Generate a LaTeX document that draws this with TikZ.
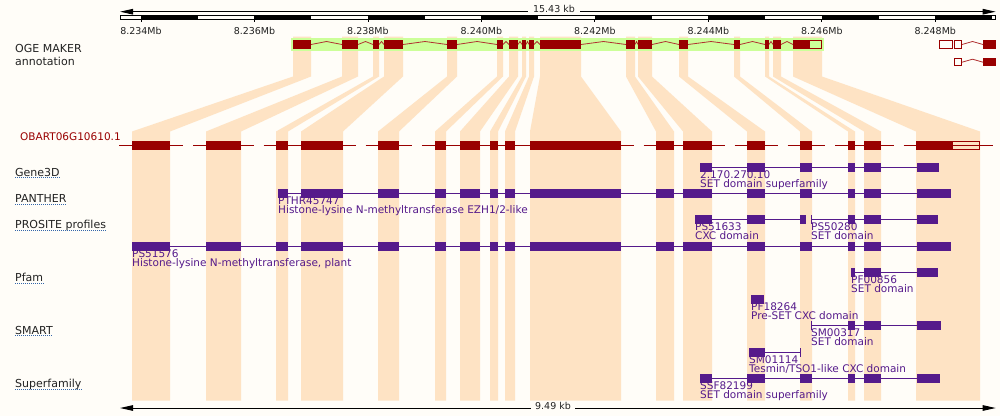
\documentclass[tikz,border=0pt]{standalone}
\usepackage{fontspec}
\setmainfont{DejaVu Sans}
\usetikzlibrary{arrows.meta}

\definecolor{pagebg}{RGB}{255,253,248}
\definecolor{exonred}{RGB}{153,0,0}
\definecolor{intronred}{RGB}{176,48,48}
\definecolor{makergreen}{RGB}{204,255,153}
\definecolor{bandorange}{RGB}{254,227,196}
\definecolor{domainpurple}{RGB}{85,26,139}
\definecolor{linkblue}{RGB}{51,102,170}
\definecolor{labelgray}{RGB}{34,34,34}

\begin{document}
\begin{tikzpicture}[
    x=1pt, y=-1pt,
    band/.style={fill=bandorange},
    exon/.style={fill=exonred},
    utr/.style={draw=exonred, line width=1pt},
    hat/.style={draw=intronred, line width=0.8pt},
    txline/.style={draw=exonred, line width=1pt},
    domainbox/.style={fill=domainpurple},
    domline/.style={draw=domainpurple, line width=1pt},
    trackname/.style={anchor=base west, inner sep=0pt, text=labelgray, font=\fontsize{11}{12}\selectfont},
    domlabel/.style={anchor=base west, inner sep=0pt, text=domainpurple, font=\fontsize{10.5}{12}\selectfont},
    ticklabel/.style={anchor=base, inner sep=0pt, text=labelgray, font=\fontsize{9.5}{11}\selectfont},
    uline/.style={draw=linkblue, line width=0.8pt, dash pattern=on 1pt off 1pt},
    dimarrow/.style={draw=black, line width=1pt, -{Triangle[length=13pt,width=5.5pt]}}
]
    % Background
    \useasboundingbox (0,0) rectangle (1000,416);
    \fill[pagebg] (0,0) rectangle (1000,416);

    % Ruler
    \coordinate (rulerL) at (120,11.7);
    \coordinate (rulerR) at (995.7,11.7);
    \node (rulerlen) at (554,12) [ticklabel, inner xsep=5pt] {15.43 kb};
    \draw[dimarrow] (rulerlen.west |- rulerL) -- (rulerL);
    \draw[dimarrow] (rulerlen.east |- rulerR) -- (rulerR);
    \draw[line width=0.8pt] (120,15.7) rectangle (995.7,19);
    \foreach \i/\lab in {0/8.234Mb, 1/8.236Mb, 2/8.238Mb, 3/8.240Mb, 4/8.242Mb, 5/8.244Mb, 6/8.246Mb, 7/8.248Mb} {
        \fill (141+113.47*\i,15.7) rectangle +(56.7,3.3);
        \draw[line width=0.8pt] (141+113.47*\i,19) -- +(0,3);
        \node (tick\i) at (141+113.47*\i,34.3) [ticklabel] {\lab};
    }

    % Exon bands
    \foreach \ga/\gb/\ta/\tb in {293/311/132/170, 342/358/206/241, 373/379/276/288, 384/403/301/343,
        447/457/378/399, 497/503/435/446, 509/518/460/480, 522/526/490/498, 529/534/505/515,
        540/581/530/621, 626/635/656/674, 638/652/683/712, 679/688/747/765, 734/740/800/812,
        765/769/848/855, 773/781/864/881, 793/822/916/980}
        \fill[band] (\ga,36.5) -- (\gb,36.5) -- (\gb,76.5) -- (\tb,131.5) -- (\tb,400.5)
            -- (\ta,400.5) -- (\ta,131.5) -- (\ga,76.5) -- cycle;

    % OGE MAKER annotation
    \node (maker) at (15,52.3) [trackname] {OGE MAKER};
    \node (makersub) at (15,65) [trackname] {annotation};
    \fill[makergreen] (291,38) rectangle (824,50.7);
    \foreach \a/\b in {311/342, 358/373, 379/384, 403/447, 457/497, 503/509, 518/522, 526/529,
        534/540, 581/626, 635/638, 652/679, 688/734, 740/765, 769/773, 781/793}
        \draw[hat] (\a,44.5) -- ({(\a+\b)/2},41.5) -- (\b,44.5);
    \foreach \a/\b in {293/311, 342/358, 373/379, 384/403, 447/457, 497/503, 509/518, 522/526,
        529/534, 540/581, 626/635, 638/652, 679/688, 734/740, 765/769, 773/781, 793/809}
        \fill[exon] (\a,40) rectangle (\b,48.7);
    \draw[utr] (809.5,40.5) rectangle (821.5,48.2);

    % neighbouring models
    \draw[utr] (939.5,40.8) rectangle (952.5,48.2);
    \draw[utr] (954.5,40.8) rectangle (961.5,48.2);
    \draw[hat] (962,44.5) -- (972.5,41.5) -- (983,44.5);
    \fill[exon] (983,40.3) rectangle (996,48.7);
    \draw[utr] (954.5,58.5) rectangle (961.5,65.8);
    \draw[hat] (962,62.2) -- (972.5,59.2) -- (983,62.2);
    \fill[exon] (983,58) rectangle (996,66.3);

    % Transcript
    \node (transcript) at (20,140.7) [trackname, text=exonred, font=\fontsize{10.5}{12}\selectfont] {OBART06G10610.1};
    \foreach \a/\b in {119/132, 170/183, 193/206, 241/253.5, 263.5/276, 288/301, 343/355.5, 365.5/378,
        399/412, 422/435, 446/460, 480/490, 498/505, 515/530, 621/633.5, 643.5/656, 674/683,
        712/724.5, 734.5/747, 765/777.5, 787.5/800, 812/825, 835/848, 855/864, 881/893.5,
        903.5/916, 952/993}
        \draw[txline] (\a,145.3) -- (\b,145.3);
    \foreach \a/\b in {132/170, 206/241, 276/288, 301/343, 378/399, 435/446, 460/480, 490/498,
        505/515, 530/621, 656/674, 683/712, 747/765, 800/812, 848/855, 864/881, 916/952}
        \fill[exon] (\a,141) rectangle (\b,149.7);
    \draw[utr] (952,141.5) rectangle (979.5,149.2);

    % Track names
    \node (gene3d) at (15,176) [trackname] {Gene3D};
    \node (panther) at (15,202.7) [trackname] {PANTHER};
    \node (prosite) at (15,228.5) [trackname] {PROSITE profiles};
    \node (pfam) at (15,281.3) [trackname] {Pfam};
    \node (smart) at (15,334) [trackname] {SMART};
    \node (superfam) at (15,387.3) [trackname] {Superfamily};
    \foreach \n in {gene3d, panther, prosite, pfam, smart, superfam}
        \draw[uline] ([yshift=-1.8pt]\n.base west) -- ([yshift=-1.8pt]\n.base east);

    % Domain labels
    \node (gene3dId) at (700,178) [domlabel] {2.170.270.10};
    \node (gene3dDesc) at (700,187.4) [domlabel] {SET domain superfamily};
    \node (pantherId) at (278,204) [domlabel] {PTHR45747};
    \node (pantherDesc) at (278,213.4) [domlabel] {Histone-lysine N-methyltransferase EZH1/2-like};
    \node (cxcId) at (695,230) [domlabel] {PS51633};
    \node (cxcDesc) at (695,239.4) [domlabel] {CXC domain};
    \node (setId) at (811,230) [domlabel] {PS50280};
    \node (setDesc) at (811,239.4) [domlabel] {SET domain};
    \node (plantId) at (132,257) [domlabel] {PS51576};
    \node (plantDesc) at (132,266.4) [domlabel] {Histone-lysine N-methyltransferase, plant};
    \node (pfsetId) at (851,283) [domlabel] {PF00856};
    \node (pfsetDesc) at (851,292.4) [domlabel] {SET domain};
    \node (pfcxcId) at (751,310) [domlabel] {PF18264};
    \node (pfcxcDesc) at (751,319.4) [domlabel] {Pre-SET CXC domain};
    \node (smsetId) at (811,336) [domlabel] {SM00317};
    \node (smsetDesc) at (811,345.4) [domlabel] {SET domain};
    \node (smcxcId) at (749,363) [domlabel] {SM01114};
    \node (smcxcDesc) at (749,372.4) [domlabel] {Tesmin/TSO1-like CXC domain};
    \node (ssfId) at (700,389) [domlabel] {SSF82199};
    \node (ssfDesc) at (700,398.4) [domlabel] {SET domain superfamily};

    % Gene3D
    \draw[domline] (712,167.3) -- (917,167.3);
    \foreach \a/\b in {700/712, 747/765, 800/812, 848/855, 864/881, 917/939}
        \fill[domainbox] (\a,163) rectangle (\b,171.7);

    % PANTHER
    \draw[domline] (278,193.3) -- (951,193.3);
    \foreach \a/\b in {278/288, 301/343, 378/399, 435/446, 460/480, 490/498, 505/515, 530/621,
        656/674, 683/712, 747/765, 800/812, 848/855, 864/881, 917/951}
        \fill[domainbox] (\a,189) rectangle (\b,197.7);

    % PROSITE profiles
    \draw[domline] (712,219.3) -- (806,219.3);
    \foreach \a/\b in {695/712, 747/765, 800/806}
        \fill[domainbox] (\a,215) rectangle (\b,223.7);
    \draw[domline] (811,219.3) -- (917,219.3);
    \foreach \a/\b in {811/812, 848/855, 864/881, 917/938}
        \fill[domainbox] (\a,215) rectangle (\b,223.7);
    \draw[domline] (132,246.3) -- (951,246.3);
    \foreach \a/\b in {132/170, 206/241, 276/288, 301/343, 378/399, 435/446, 460/480, 490/498,
        505/515, 530/621, 656/674, 683/712, 747/765, 800/812, 848/855, 864/881, 917/951}
        \fill[domainbox] (\a,242) rectangle (\b,250.7);

    % Pfam
    \draw[domline] (855,272.3) -- (917,272.3);
    \foreach \a/\b in {851/855, 864/881, 917/938}
        \fill[domainbox] (\a,268) rectangle (\b,276.7);
    \fill[domainbox] (751,295) rectangle (764,303.7);

    % SMART
    \draw[domline] (811,325.3) -- (917,325.3);
    \foreach \a/\b in {811/812, 848/855, 864/881, 917/941}
        \fill[domainbox] (\a,321) rectangle (\b,329.7);
    \draw[domline] (765,352.3) -- (800,352.3);
    \foreach \a/\b in {749/765, 799.5/800.5}
        \fill[domainbox] (\a,348) rectangle (\b,356.7);

    % Superfamily
    \draw[domline] (712,378.3) -- (917,378.3);
    \foreach \a/\b in {700/712, 747/765, 800/812, 848/855, 864/881, 917/940}
        \fill[domainbox] (\a,374) rectangle (\b,382.7);

    % Bottom length
    \coordinate (lenL) at (120,408);
    \coordinate (lenR) at (995.7,408);
    \node (protlen) at (553,409) [ticklabel, inner xsep=4pt] {9.49 kb};
    \draw[dimarrow] (protlen.west |- lenL) -- (lenL);
    \draw[dimarrow] (protlen.east |- lenR) -- (lenR);
\end{tikzpicture}
\end{document}
